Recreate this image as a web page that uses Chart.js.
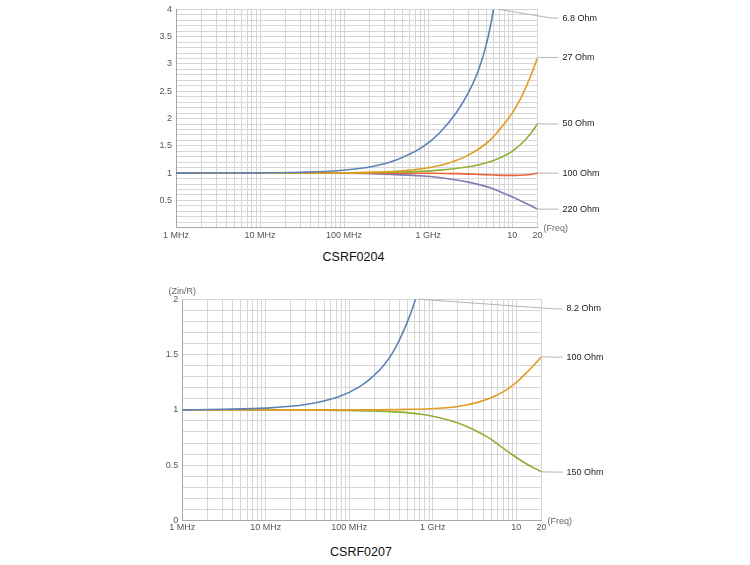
<!DOCTYPE html>
<html><head><meta charset="utf-8">
<script src="https://cdn.jsdelivr.net/npm/chart.js@4/dist/chart.umd.min.js"></script>
<style>
html,body{margin:0;padding:0;background:#fff;width:750px;height:565px;overflow:hidden;font-family:"Liberation Sans",Arial,sans-serif}
#c1{position:absolute;left:0;top:0}
#c2{position:absolute;left:0;top:280px}
.t{position:absolute;font-size:12.5px;color:#111;transform:translate(-50%,-50%);white-space:nowrap}
</style></head><body>
<canvas id="c1" width="750" height="250"></canvas>
<canvas id="c2" width="750" height="262"></canvas>
<div class="t" style="left:353.5px;top:257px">CSRF0204</div>
<div class="t" style="left:361px;top:552px">CSRF0207</div>
<script>
// ---------- tick labels ----------
const xLabelValues = [1, 10, 100, 1000, 10000, 20000];           // MHz
const xLabels      = ['1 MHz', '10 MHz', '100 MHz', '1 GHz', '10', '20'];
const yLabels1     = ['0.5', '1', '1.5', '2', '2.5', '3', '3.5', '4'];
const yLabels2     = ['0', '0.5', '1', '1.5', '2'];

// ---------- CSRF0204 series (freq in MHz, Zin/R) ----------
const f68  = [1, 10, 30, 90, 223, 424, 880, 1390, 2190, 3000, 4000, 5000, 6000, 7000];
const v68  = [1, 1.005, 1.016, 1.049, 1.127, 1.247, 1.49, 1.75, 2.12, 2.47, 2.9, 3.4, 4.0, 4.66];
const f27  = [1, 100, 224, 500, 880, 1500, 2190, 3000, 4160, 5500, 6580, 8000, 10000, 12450, 15000, 17500, 20000];
const v27  = [1, 1.005, 1.018, 1.043, 1.085, 1.155, 1.235, 1.33, 1.46, 1.61, 1.74, 1.9, 2.1, 2.35, 2.62, 2.87, 3.12];
const f50  = [1, 100, 390, 800, 1390, 2500, 4160, 6000, 8650, 11000, 13700, 16500, 20000];
const v50  = [1, 1.004, 1.016, 1.032, 1.055, 1.097, 1.158, 1.23, 1.34, 1.45, 1.58, 1.72, 1.905];
const f100 = [1, 100, 500, 1000, 2190, 4160, 6000, 8600, 11000, 14000, 17000, 20000];
const v100 = [1, 1, 0.999, 0.997, 0.99, 0.975, 0.965, 0.958, 0.958, 0.966, 0.98, 1.0];
const f220 = [1, 100, 353, 880, 1500, 2190, 3000, 4160, 5500, 7200, 9500, 12400, 16000, 20000];
const v220 = [1, 0.997, 0.977, 0.947, 0.912, 0.875, 0.835, 0.785, 0.73, 0.66, 0.58, 0.498, 0.415, 0.34];

const names1   = ['6.8 Ohm', '27 Ohm', '50 Ohm', '100 Ohm', '220 Ohm'];
const labelV1  = [3.84, 3.12, 1.9, 1.0, 0.34];      // label heights (value units)
const anchorF1 = [7000, 20000, 20000, 20000, 20000];
const anchorV1 = [4, 3.12, 1.905, 1.0, 0.34];

// ---------- CSRF0207 series ----------
const f82   = [1, 3, 10, 30, 76, 130, 191, 260, 332, 400, 480, 550, 620, 700];
const v82   = [1, 1.005, 1.016, 1.048, 1.12, 1.205, 1.3, 1.405, 1.52, 1.635, 1.77, 1.885, 2.0, 2.14];
const f100b = [1, 100, 500, 1200, 2000, 3600, 5500, 7500, 10000, 13000, 16500, 20000];
const v100b = [1, 1.0, 1.004, 1.015, 1.03, 1.072, 1.122, 1.178, 1.248, 1.33, 1.41, 1.48];
const f150  = [1, 30, 76, 200, 480, 800, 1200, 1800, 2500, 3500, 4750, 6500, 9000, 13000, 20000];
const v150  = [1, 0.998, 0.995, 0.989, 0.975, 0.955, 0.928, 0.892, 0.852, 0.8, 0.744, 0.67, 0.594, 0.515, 0.44];

const names2   = ['8.2 Ohm', '100 Ohm', '150 Ohm'];
const labelV2  = [1.912, 1.476, 0.437];
const anchorF2 = [680, 20000, 20000];
const anchorV2 = [2, 1.48, 0.44];

// ---------- styling ----------
const COLORS = ['#5e81b5', '#e19c24', '#8fb032', '#eb6235', '#8778b3'];
Chart.defaults.font.family = '"Liberation Sans", Arial, sans-serif';
Chart.defaults.font.size = 9;
Chart.defaults.color = '#555';

const xGrid = [];
for (let d = 1; d <= 1000; d *= 10) for (let m = 1; m <= 9; m++) xGrid.push(m * d);
xGrid.push(10000, 20000);

function pts(f, v) { return f.map((x, i) => ({ x: x, y: v[i] })); }
function ds(f, v, c) {
  return { data: pts(f, v), borderColor: c, borderWidth: 1.6, pointRadius: 0,
           cubicInterpolationMode: 'monotone', fill: false };
}

const annot = {
  id: 'annot',
  afterDatasetsDraw(chart, args, o) {
    const { ctx, chartArea: a, scales: { x, y } } = chart;
    ctx.save();
    ctx.font = '9px "Liberation Sans", Arial, sans-serif';
    ctx.textBaseline = 'middle';
    o.names.forEach((n, i) => {
      const x0 = x.getPixelForValue(o.af[i]), y0 = y.getPixelForValue(o.av[i]);
      const yl = y.getPixelForValue(o.lv[i]);
      ctx.strokeStyle = '#b4b4b4'; ctx.lineWidth = 1;
      ctx.beginPath(); ctx.moveTo(x0, y0); ctx.lineTo(a.right + 14, yl); ctx.lineTo(a.right + 21, yl); ctx.stroke();
      ctx.fillStyle = '#222'; ctx.textAlign = 'left';
      ctx.fillText(n, a.right + 25, yl);
    });
    ctx.fillStyle = '#666'; ctx.textAlign = 'left';
    ctx.fillText('(Freq)', a.right + 6, a.bottom + 1);
    if (o.yName) { ctx.textAlign = 'center'; ctx.fillText(o.yName, a.left, a.top - 8); }
    ctx.restore();
  }
};

function makeChart(id, datasets, ymax, yLabels, leftW, pad, annotOpts) {
  const yGrid = [];
  for (let i = 0; i <= ymax * 10; i++) yGrid.push(Math.round(i) / 10);
  return new Chart(document.getElementById(id), {
    type: 'line',
    data: { datasets: datasets },
    plugins: [annot],
    options: {
      responsive: false, animation: false, devicePixelRatio: 1,
      layout: { padding: pad },
      plugins: { legend: { display: false }, tooltip: { enabled: false }, annot: annotOpts },
      scales: {
        x: {
          type: 'logarithmic', min: 1, max: 20000,
          afterBuildTicks: s => { s.ticks = xGrid.map(v => ({ value: v })); },
          afterFit: s => { s.height = 20; },
          ticks: { autoSkip: false, maxRotation: 0, padding: 2, color: '#555',
                   callback: v => { const k = xLabelValues.indexOf(v); return k >= 0 ? xLabels[k] : ''; } },
          grid: { color: '#d6d6d6', lineWidth: 1, drawTicks: false },
          border: { color: '#a8a8a8' }
        },
        y: {
          type: 'linear', min: 0, max: ymax,
          afterBuildTicks: s => { s.ticks = yGrid.map(v => ({ value: v })); },
          afterFit: s => { s.width = leftW; },
          ticks: { autoSkip: false, padding: 4, color: '#555',
                   callback: v => { const k = yLabels.indexOf(String(Math.round(v * 10) / 10)); return k >= 0 ? yLabels[k] : ''; } },
          grid: { color: '#d6d6d6', lineWidth: 1, drawTicks: false },
          border: { color: '#a8a8a8' }
        }
      }
    }
  });
}

makeChart('c1', [
  ds(f68, v68, COLORS[0]), ds(f27, v27, COLORS[1]), ds(f50, v50, COLORS[2]),
  ds(f100, v100, COLORS[3]), ds(f220, v220, COLORS[4])
], 4, yLabels1, 176, { left: 0, right: 212.5, top: 5.4, bottom: 2.3 },
  { names: names1, lv: labelV1, af: anchorF1, av: anchorV1 });

makeChart('c2', [
  ds(f82, v82, COLORS[0]), ds(f100b, v100b, COLORS[1]), ds(f150, v150, COLORS[2])
], 2, yLabels2, 182.3, { left: 0, right: 208.5, top: 19.2, bottom: 1.5 },
  { names: names2, lv: labelV2, af: anchorF2, av: anchorV2, yName: '(Zin/R)' });
</script>
</body></html>
